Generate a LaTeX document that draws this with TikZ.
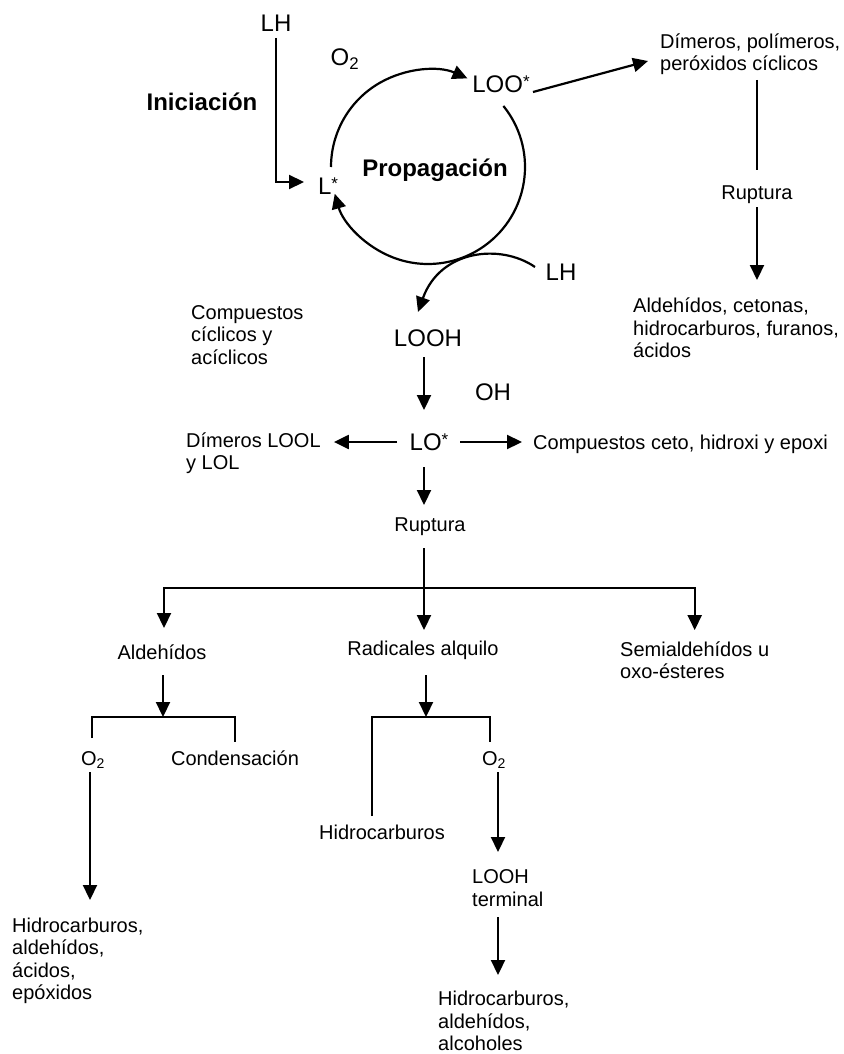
\documentclass[tikz,border=0pt]{standalone}
\usepackage{fontspec}
\setmainfont{Liberation Sans}
\usetikzlibrary{arrows.meta,calc}
% small raised asterisk marking a radical
\newcommand\radstar{\raisebox{5pt}{\fontsize{17}{17}\selectfont *}}
\begin{document}
\begin{tikzpicture}[x=1pt,y=-1pt,
  big/.style={inner sep=0pt,text height=17.2pt,text depth=0pt,font=\fontsize{24}{28}\selectfont},
  bigbold/.style={big,font=\fontsize{24}{28}\selectfont\bfseries},
  small/.style={inner sep=0pt,font=\fontsize{20}{22.5}\selectfont,align=left},
  smallone/.style={small,text height=14.3pt,text depth=0pt},
  line/.style={line width=2.2pt},
  arr/.style={line width=2.2pt,-{Triangle[length=15pt,width=14pt]}},
]
\useasboundingbox (0,0) rectangle (843,1054);
\fill[white] (0,0) rectangle (843,1054);

% species of the propagation cycle
\node[big] (lhA) at (276,23) {LH};
\node[big] (o2A) at (345,57) {O\textsubscript{2}};
\node[bigbold] (ini) at (202,102) {Iniciación};
\node[big] (loo) at (501,84) {LOO\radstar};
\node[big] (ls) at (328,186) {L\radstar};
\node[bigbold] (prop) at (435,168) {Propagación};
\node[big] (lhB) at (561,272) {LH};
\node[big] (looh) at (428,338) {LOOH};
\node[big] (oh) at (493,392) {OH};
\node[big] (lo) at (429,442) {LO\radstar};

% products
\node[small,anchor=west] (dim) at (660,54) {Dímeros, polímeros,\\peróxidos cíclicos};
\node[smallone] (rupA) at (757,192) {Ruptura};
\node[small,anchor=west] (aldA) at (633,328) {Aldehídos, cetonas,\\hidrocarburos, furanos,\\ácidos};
\node[small,anchor=west] (comp) at (191,335) {Compuestos\\cíclicos y\\acíclicos};
\node[small,anchor=west] (dimL) at (186,453) {Dímeros LOOL\\y LOL};
\node[smallone,anchor=west] (ceto) at (533,442) {Compuestos ceto, hidroxi y epoxi};
\node[smallone] (rupB) at (430,524) {Ruptura};
\node[smallone] (ald) at (162,652) {Aldehídos};
\node[smallone] (rad) at (423,648) {Radicales alquilo};
\node[small,anchor=west] (semi) at (620,660) {Semialdehídos u\\oxo-ésteres};
\node[smallone] (o2B) at (93,758) {O\textsubscript{2}};
\node[smallone] (cond) at (235,758) {Condensación};
\node[smallone] (o2C) at (494,758) {O\textsubscript{2}};
\node[smallone] (hid) at (382,832) {Hidrocarburos};
\node[small,anchor=west] (hidA) at (12,961) {Hidrocarburos,\\aldehídos,\\ácidos,\\epóxidos};
\node[small,anchor=west] (looht) at (472,888) {LOOH\\terminal};
\node[small,anchor=west] (hidB) at (438,1021) {Hidrocarburos,\\aldehídos,\\alcoholes};

% initiation
\draw[arr] ($(lhA)+(0,15)$) |- ($(ls)+(-24,-4)$);

% propagation cycle
\coordinate (cyc) at (428,167);
\draw[arr] ([shift={(180:97)}]cyc) arc[start angle=180,end angle=294,radius=97];
\draw[arr] ([shift={(-39:97)}]cyc) arc[start angle=-39,end angle=164,radius=97];
\draw[arr] ($(lhB)+(-26,-5)$) .. controls (500,243) and (440,250) .. ($(looh)+(-10,-26)$);

% peroxyl radical branch
\draw[arr] ($(loo)+(32,8)$) -- ($(dim.west)+(-12,7)$);
\draw[line] ($(rupA)+(0,-112)$) -- ($(rupA)+(0,-22)$);
\draw[arr] ($(rupA)+(0,15)$) -- ($(aldA.west)+(124,-48)$);

% hydroperoxide decomposition
\draw[arr] ($(looh)+(-4,19)$) -- ($(lo)+(-5,-32)$);
\draw[arr] ($(lo)+(-32,0)$) -- ($(dimL.east |- lo)+(13,0)$);
\draw[arr] ($(lo)+(31,0)$) -- ($(ceto.west)+(-11,0)$);
\draw[arr] ($(lo)+(-5,25)$) -- ($(rupB)+(-6,-19)$);

% scission branches
\coordinate (bar) at ($(rupB)+(-6,64)$);
\draw[line] ($(rupB)+(-6,24)$) -- (bar);
\draw[arr] (bar) -| ($(ald)+(2,-24)$);
\draw[arr] (bar) -| ($(semi.north)+(0,-11)$);
\draw[arr] (bar) -- ($(rad)+(1,-18)$);

% aldehydes
\draw[arr] ($(ald)+(1,23)$) -- ($(ald)+(1,65)$);
\draw[line] ($(o2B)+(-1,-20)$) |- ($(cond)+(0,-41)$) -- ($(cond)+(0,-16)$);
\draw[arr] ($(o2B)+(-3,14)$) -- ($(hidA.west)+(78,-61)$);

% alkyl radicals
\draw[arr] ($(rad)+(3,27)$) -- ($(rad)+(3,69)$);
\draw[line] ($(hid)+(-10,-16)$) |- ($(o2C)+(-4,-41)$) -- ($(o2C)+(-4,-16)$);
\draw[arr] ($(o2C)+(4,14)$) -- ($(looht.west)+(26,-36)$);
\draw[arr] ($(looht.west)+(26,29)$) -- ($(hidB.west)+(60,-46)$);
\end{tikzpicture}
\end{document}
